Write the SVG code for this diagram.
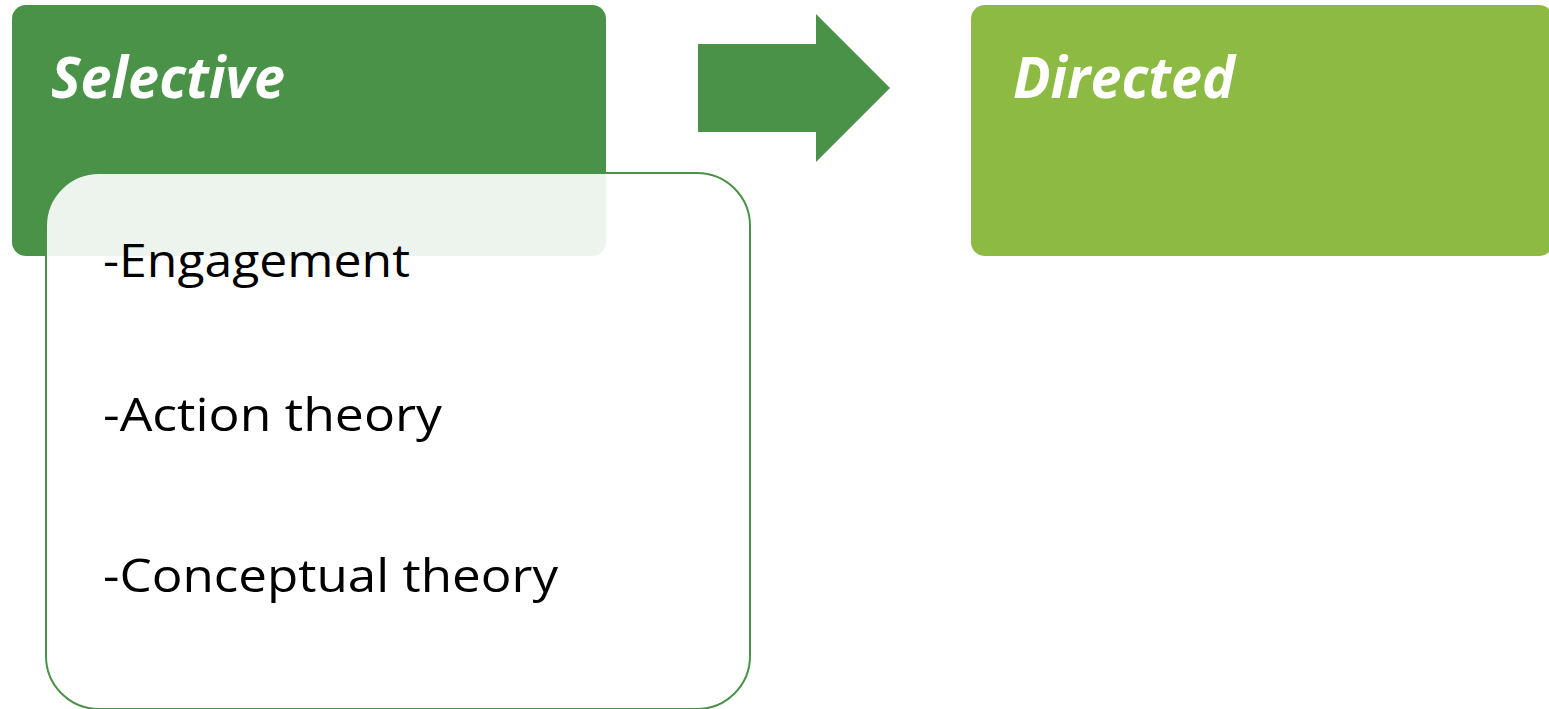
<svg xmlns="http://www.w3.org/2000/svg" width="1549" height="709" viewBox="0 0 1549 709">
  <style>
    .title { font-family: "Open Sans", "Liberation Sans", sans-serif; font-weight: bold; font-style: italic; font-size: 58px; fill: #ffffff; }
    .item { font-family: "Open Sans", "Liberation Sans", sans-serif; font-size: 46px; fill: #000000; }
  </style>
  <rect width="1549" height="709" fill="#ffffff"/>
  <g id="selective">
    <rect x="12" y="5" width="594" height="251" rx="14" fill="#4a9248"/>
    <text class="title" x="51" y="98" textLength="234" lengthAdjust="spacingAndGlyphs">Selective</text>
  </g>
  <g id="connectors">
    <polygon points="698,44 816,44 816,14 890,88 816,162 816,132 698,132" fill="#4a9248"/>
  </g>
  <g id="directed">
    <rect x="971" y="5" width="582" height="251" rx="14" fill="#8cba42"/>
    <text class="title" x="1013" y="98" textLength="222" lengthAdjust="spacingAndGlyphs">Directed</text>
  </g>
  <g id="selective-details">
    <rect x="46" y="173" width="704" height="536" rx="53" fill="#ffffff" fill-opacity="0.9" stroke="#4a9248" stroke-width="2"/>
    <text class="item" x="103" y="277" textLength="307" lengthAdjust="spacingAndGlyphs">-Engagement</text>
    <text class="item" x="103" y="431" textLength="339" lengthAdjust="spacingAndGlyphs">-Action theory</text>
    <text class="item" x="103" y="592" textLength="455" lengthAdjust="spacingAndGlyphs">-Conceptual theory</text>
  </g>
</svg>
